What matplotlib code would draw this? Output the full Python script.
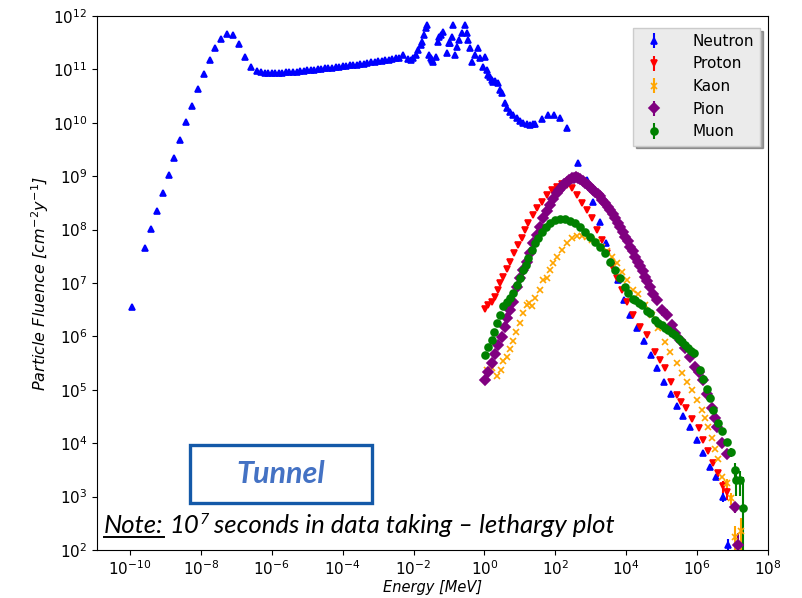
import numpy as np
import matplotlib.pyplot as plt
from matplotlib.lines import Line2D
from matplotlib.patches import Rectangle
from matplotlib.ticker import NullLocator
from matplotlib.transforms import IdentityTransform

plt.rcParams['font.family'] = 'DejaVu Sans'

# values, stored as log10(E [MeV]) and log10(fluence)
neutron_logE = [-9.94, -9.58, -9.41, -9.25, -9.08, -8.91, -8.75, -8.58, -8.42, -8.25,
                -8.08, -7.92, -7.75, -7.60, -7.42, -7.25, -7.09, -6.92, -6.75, -6.59,
                -6.43, -6.3, -6.2, -6.1, -6.0, -5.9, -5.8, -5.7, -5.6, -5.5,
                -5.4, -5.3, -5.2, -5.1, -5.0, -4.9, -4.8, -4.7, -4.6, -4.5,
                -4.4, -4.3, -4.2, -4.1, -4.0, -3.9, -3.8, -3.7, -3.6, -3.5,
                -3.4, -3.3, -3.2, -3.1, -3.0, -2.9, -2.8, -2.7, -2.6, -2.5,
                -2.4, -2.30, -2.16, -2.08, -2.01, -1.94, -1.87, -1.80, -1.76, -1.70,
                -1.65, -1.62, -1.56, -1.52, -1.48, -1.45, -1.37, -1.31, -1.27, -1.22,
                -1.17, -1.06, -1.00, -0.97, -0.91, -0.89, -0.83, -0.77, -0.72, -0.63,
                -0.55, -0.49, -0.46, -0.41, -0.35, -0.27, -0.18, -0.12, -0.04, 0.02,
                0.06, 0.10, 0.15, 0.20, 0.24, 0.30, 0.38, 0.44, 0.50, 0.58,
                0.64, 0.72, 0.80, 0.92, 1.00, 1.09, 1.20, 1.29, 1.36, 1.43,
                1.63, 1.79, 1.96, 2.13, 2.33, 2.65, 2.89, 3.05, 3.26, 3.43,
                3.60, 3.77, 3.94, 4.11, 4.31, 4.50, 4.69, 4.88, 5.07, 5.25,
                5.44, 5.61, 5.80, 5.99, 6.18, 6.35, 6.53, 6.72, 6.88]
neutron_logF = [6.55, 7.66, 8.01, 8.34, 8.68, 9.02, 9.35, 9.68, 10.01, 10.32,
                10.63, 10.92, 11.18, 11.41, 11.57, 11.66, 11.64, 11.47, 11.23, 11.04,
                10.97, 10.95, 10.94, 10.94, 10.93, 10.93, 10.94, 10.94, 10.95, 10.95,
                10.96, 10.96, 10.97, 10.97, 10.98, 10.98, 10.99, 11.00, 11.01, 11.02,
                11.02, 11.03, 11.04, 11.05, 11.06, 11.07, 11.08, 11.08, 11.09, 11.10,
                11.11, 11.12, 11.13, 11.14, 11.15, 11.16, 11.17, 11.18, 11.20, 11.21,
                11.22, 11.27, 11.19, 11.18, 11.21, 11.27, 11.36, 11.45, 11.51, 11.64,
                11.78, 11.83, 11.27, 11.22, 11.18, 11.14, 11.23, 11.51, 11.61, 11.64,
                11.70, 11.31, 11.49, 11.49, 11.61, 11.83, 11.27, 11.42, 11.55, 11.68,
                11.83, 11.68, 11.55, 11.40, 11.14, 11.27, 11.40, 11.21, 11.04, 11.23,
                10.98, 10.90, 10.85, 10.80, 10.76, 10.78, 10.75, 10.62, 10.56, 10.37,
                10.28, 10.20, 10.14, 10.09, 10.04, 10.00, 9.97, 9.96, 9.97, 9.98,
                10.07, 10.15, 10.15, 10.09, 9.90, 9.24, 8.93, 8.52, 8.15, 7.75,
                7.40, 7.05, 6.68, 6.40, 6.15, 5.91, 5.65, 5.40, 5.15, 4.93,
                4.70, 4.50, 4.31, 4.06, 3.81, 3.56, 3.37, 3.00, 2.09]
neutron_tail_err = [0.2, 0.3]

proton_logE = [0.02, 0.10, 0.20, 0.30, 0.37, 0.44, 0.53, 0.63, 0.72, 0.84,
               0.96, 1.05, 1.15, 1.24, 1.38, 1.48, 1.62, 1.76, 1.90, 2.04,
               2.18, 2.32, 2.46, 2.60, 2.74, 2.89, 3.03, 3.17, 3.31, 3.45,
               3.59, 3.73, 3.87, 4.01, 4.20, 4.39, 4.58, 4.81, 4.95, 5.10,
               5.26, 5.42, 5.55, 5.69, 5.86, 6.04, 6.18, 6.32, 6.46, 6.60,
               6.74, 6.83]
proton_logF = [6.51, 6.58, 6.65, 6.74, 6.87, 7.00, 7.12, 7.27, 7.40, 7.56,
               7.71, 7.84, 7.99, 8.12, 8.27, 8.40, 8.52, 8.65, 8.74, 8.80,
               8.85, 8.84, 8.77, 8.65, 8.49, 8.37, 8.21, 7.99, 7.81, 7.56,
               7.31, 7.09, 6.87, 6.65, 6.40, 6.18, 6.03, 5.71, 5.55, 5.40,
               5.15, 4.90, 4.78, 4.65, 4.45, 4.28, 4.06, 3.85, 3.62, 3.44,
               3.19, 3.09]
proton_tail_err = [0.15, 0.25, 0.3]

kaon_logE = [0.06, 0.20, 0.36, 0.46, 0.53, 0.63, 0.72, 0.80, 0.89, 0.99,
             1.10, 1.19, 1.26, 1.33, 1.43, 1.57, 1.66, 1.76, 1.85, 1.94,
             2.05, 2.18, 2.32, 2.46, 2.60, 2.74, 2.89, 3.03, 3.17, 3.31,
             3.45, 3.59, 3.73, 3.87, 4.01, 4.20, 4.34, 4.53, 4.72, 4.91,
             5.10, 5.24, 5.42, 5.57, 5.71, 5.85, 5.99, 6.13, 6.22, 6.32,
             6.41, 6.50, 6.60, 6.69, 6.83, 6.97, 7.06, 7.24]
kaon_logF = [5.37, 5.40, 5.26, 5.38, 5.53, 5.62, 5.76, 5.92, 6.09, 6.25,
             6.43, 6.59, 6.62, 6.56, 6.71, 6.87, 7.06, 7.10, 7.24, 7.37,
             7.49, 7.62, 7.74, 7.84, 7.88, 7.88, 7.86, 7.81, 7.76, 7.68,
             7.60, 7.49, 7.37, 7.21, 7.06, 6.87, 6.80, 6.59, 6.40, 6.15,
             5.90, 5.71, 5.50, 5.31, 5.15, 5.00, 4.81, 4.62, 4.47, 4.31,
             4.10, 3.90, 3.70, 3.37, 3.25, 2.97, 2.25, 2.35]
kaon_tail_err = [0.2, 0.25, 0.6, 0.8]

pion_logE = [0.02, 0.11, 0.20, 0.30, 0.39, 0.49, 0.58, 0.65, 0.72, 0.81,
             0.91, 1.00, 1.10, 1.19, 1.29, 1.38, 1.48, 1.57, 1.66, 1.76,
             1.85, 1.94, 2.04, 2.11, 2.18, 2.25, 2.32, 2.39, 2.46, 2.52,
             2.58, 2.64, 2.70, 2.77, 2.84, 2.91, 2.98, 3.05, 3.12, 3.19,
             3.26, 3.33, 3.40, 3.48, 3.55, 3.62, 3.69, 3.76, 3.83, 3.90,
             3.97, 4.04, 4.11, 4.18, 4.25, 4.32, 4.39, 4.46, 4.53, 4.60,
             4.67, 4.76, 4.86, 5.00, 5.14, 5.28, 5.38, 5.52, 5.66, 5.80,
             5.94, 6.04, 6.18, 6.27, 6.41, 6.51, 6.55, 6.69, 6.85, 7.06,
             7.16]
pion_logF = [5.18, 5.34, 5.50, 5.67, 5.84, 5.99, 6.18, 6.34, 6.49, 6.65,
             6.93, 7.09, 7.24, 7.40, 7.56, 7.74, 7.90, 8.05, 8.21, 8.34,
             8.46, 8.57, 8.68, 8.74, 8.80, 8.85, 8.90, 8.93, 8.96, 8.97,
             8.98, 8.96, 8.94, 8.91, 8.87, 8.83, 8.79, 8.75, 8.71, 8.67,
             8.62, 8.56, 8.49, 8.43, 8.37, 8.29, 8.21, 8.13, 8.05, 7.96,
             7.87, 7.78, 7.68, 7.59, 7.49, 7.40, 7.31, 7.22, 7.12, 7.03,
             6.93, 6.80, 6.68, 6.49, 6.40, 6.21, 6.06, 5.93, 5.78, 5.62,
             5.43, 5.34, 5.18, 4.93, 4.65, 4.47, 4.31, 4.00, 3.79, 2.81,
             2.09]
pion_tail_err = [0.25, 0.7]

muon_logE = [0.02, 0.11, 0.20, 0.27, 0.35, 0.44, 0.53, 0.63, 0.72, 0.81,
             0.91, 1.00, 1.10, 1.17, 1.24, 1.33, 1.43, 1.52, 1.62, 1.74,
             1.85, 1.99, 2.13, 2.27, 2.41, 2.56, 2.70, 2.84, 2.98, 3.12,
             3.26, 3.40, 3.55, 3.69, 3.83, 3.97, 4.06, 4.18, 4.25, 4.35,
             4.44, 4.58, 4.67, 4.81, 4.90, 5.00, 5.10, 5.19, 5.29, 5.38,
             5.48, 5.57, 5.66, 5.75, 5.83, 5.90, 6.08, 6.18, 6.27, 6.36,
             6.46, 6.60, 6.69, 6.83, 6.97, 7.06, 7.11, 7.20, 7.29]
muon_logF = [5.65, 5.81, 5.93, 6.09, 6.25, 6.40, 6.56, 6.65, 6.71, 6.81,
             6.96, 7.09, 7.24, 7.34, 7.46, 7.62, 7.74, 7.84, 7.96, 8.05,
             8.13, 8.18, 8.20, 8.19, 8.17, 8.12, 8.04, 7.96, 7.87, 7.77,
             7.68, 7.56, 7.40, 7.24, 7.09, 6.93, 6.81, 6.70, 6.68, 6.62,
             6.59, 6.48, 6.43, 6.31, 6.26, 6.21, 6.16, 6.12, 6.07, 6.03,
             5.96, 5.90, 5.84, 5.78, 5.73, 5.68, 5.37, 5.21, 5.02, 4.84,
             4.62, 4.37, 4.22, 4.03, 3.84, 3.50, 3.31, 3.31, 2.78]
muon_tail_err = [0.2, 0.35, 0.5, 0.5, 2.9]

W, H = 802, 598
fig = plt.figure(figsize=(W / 100, H / 100), dpi=100)
ax = fig.add_axes([97 / W, 48 / H, 671 / W, 534 / H])

series = [
    ('Neutron', neutron_logE, neutron_logF, neutron_tail_err, 'blue', '^'),
    ('Proton', proton_logE, proton_logF, proton_tail_err, 'red', 'v'),
    ('Kaon', kaon_logE, kaon_logF, kaon_tail_err, 'orange', 'x'),
    ('Pion', pion_logE, pion_logF, pion_tail_err, 'purple', 'D'),
    ('Muon', muon_logE, muon_logF, muon_tail_err, 'green', 'o'),
]
for name, le, lf, tail, color, marker in series:
    e = 10.0 ** np.array(le)
    f = 10.0 ** np.array(lf)
    err = np.zeros(len(f))
    n = len(tail)
    err[-n:] = np.array(tail) * f[-n:]
    ax.errorbar(e, f, yerr=err, fmt=marker, color=color, ms=5, mew=1.2,
                elinewidth=1.5, label=name)

ax.set_xscale('log')
ax.set_yscale('log')
ax.set_xlim(10 ** -10.93, 1e8)
ax.set_ylim(1e2, 1e12)
ax.set_yticks(10.0 ** np.arange(2, 13))
ax.yaxis.set_minor_locator(NullLocator())
ax.set_xticks(10.0 ** np.arange(-10, 9, 2))
ax.xaxis.set_minor_locator(NullLocator())
ax.tick_params(labelsize=11)

ax.set_xlabel('Energy [MeV]', style='italic', fontsize=10.5, labelpad=1)
ax.set_ylabel('Particle Fluence [$cm^{-2}y^{-1}$]', style='italic', fontsize=11.5)
ax.yaxis.set_label_coords(-0.068, 0.5)

leg = ax.legend(loc='upper right', bbox_to_anchor=(0.988, 0.978), borderaxespad=0,
                fontsize=11, shadow=True, framealpha=1, facecolor='#ebebeb',
                edgecolor='#cccccc', fancybox=False, handletextpad=1.5)

# annotation box and note, placed in pixel coordinates of the figure
fig.add_artist(Rectangle((190 / W, 1 - 503 / H), 182 / W, 58 / H, transform=fig.transFigure,
                         fill=False, edgecolor='#1459a8', lw=2.4))
fig.text(281 / W, 1 - 474 / H, 'Tunnel', ha='center', va='center', fontsize=22,
         fontweight='bold', style='italic', color='#4472c4', family='Lato')

r = fig.canvas.get_renderer()
note_kw = dict(fontsize=18.5, style='italic', family='Lato', va='baseline', color='black')
base_y = 1 - 533 / H
t1 = fig.text(104 / W, base_y, 'Note:', **note_kw)
bb = t1.get_window_extent(r)
fig.add_artist(Line2D([bb.x0, bb.x1], [H - 537, H - 537], transform=IdentityTransform(),
                      color='black', lw=1.4))
t2 = fig.text((bb.x1 + 6) / W, base_y, '10', **note_kw)
bb = t2.get_window_extent(r)
t3 = fig.text(bb.x1 / W, base_y + 9 / H, '7', **dict(note_kw, fontsize=11.5))
bb = t3.get_window_extent(r)
fig.text(bb.x1 / W, base_y, ' seconds in data taking \u2013 lethargy plot', **note_kw)

fig.savefig('out.png', dpi=100)
